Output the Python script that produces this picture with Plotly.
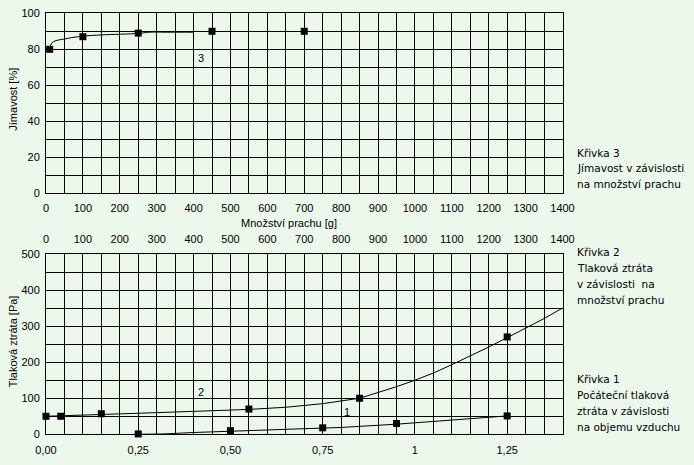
import plotly.graph_objects as go

# ---------------- data ----------------
# Křivka 3: Jímavost [%] vs množství prachu [g]
k3_mass = [10, 100, 250, 450, 700]
k3_eff = [80, 87, 89, 90, 90]
k3_fit_mass = [10, 14, 20, 30, 47, 70, 100, 150, 250, 280, 330, 400]
k3_fit_eff = [80, 83, 84.2, 85, 85.6, 86.5, 87.3, 88.0, 88.8, 89.5, 89.5, 89.5]

# Křivka 2: Tlaková ztráta [Pa] vs množství prachu [g]
k2_mass = [0, 40, 150, 550, 850, 1250]
k2_dp = [50, 50, 57, 70, 100, 270]
k2_fit_mass = [0, 40, 150, 300, 450, 550, 650, 750, 850, 900, 950, 1000, 1050,
               1100, 1150, 1200, 1250, 1300, 1350, 1400]
k2_fit_dp = [50, 51, 55, 60, 65, 69, 75, 85, 100, 115, 132, 150, 170,
             193, 217, 242, 268, 294, 321, 350]

# Křivka 1: Počáteční tlaková ztráta [Pa] vs objem vzduchu
k1_vol = [0.25, 0.50, 0.75, 0.95, 1.25]
k1_dp = [1, 10, 18, 30, 51]
k1_fit_vol = [0.25, 0.32, 0.40, 0.50, 0.65, 0.75, 0.80, 0.95, 1.10, 1.20, 1.25]
k1_fit_dp = [0, 1, 5, 9, 13, 17, 19, 28, 40, 49, 51]

mass_ticks = list(range(0, 1401, 100))
eff_ticks = [0, 20, 40, 60, 80, 100]
dp_ticks = [0, 100, 200, 300, 400, 500]
vol_tickvals = [0, 0.25, 0.5, 0.75, 1, 1.25]
vol_ticktext = ["0,00", "0,25", "0,50", "0,75", "1", "1,25"]

# ---------------- layout geometry ----------------
W, H = 694, 465
BG = "#ebf8eb"
FONT = dict(family="Liberation Sans, Arial, sans-serif", size=11, color="#000000")
NOTE_FONT = dict(family="DejaVu Sans, sans-serif", size=10.5, color="#000000")

def px(x):
    return x / W

def py(y):
    return 1 - y / H

xdom = [px(46), px(562.5)]
top_dom = [py(193.3), py(13.3)]
bot_dom = [py(434.3), py(254)]

fig = go.Figure()

mk = dict(symbol="square", size=7, color="black")
ln = dict(color="black", width=1)

fig.add_trace(go.Scatter(x=k3_fit_mass, y=k3_fit_eff, mode="lines", line=ln,
                         xaxis="x", yaxis="y", hoverinfo="skip", line_shape="spline"))
fig.add_trace(go.Scatter(x=k3_mass, y=k3_eff, mode="markers", marker=mk,
                         xaxis="x", yaxis="y", cliponaxis=False))

fig.add_trace(go.Scatter(x=k2_fit_mass, y=k2_fit_dp, mode="lines", line=ln,
                         xaxis="x3", yaxis="y2", hoverinfo="skip"))
fig.add_trace(go.Scatter(x=k2_mass, y=k2_dp, mode="markers", marker=mk,
                         xaxis="x3", yaxis="y2", cliponaxis=False))

fig.add_trace(go.Scatter(x=k1_fit_vol, y=k1_fit_dp, mode="lines", line=ln,
                         xaxis="x2", yaxis="y2", hoverinfo="skip"))
fig.add_trace(go.Scatter(x=k1_vol, y=k1_dp, mode="markers", marker=mk,
                         xaxis="x2", yaxis="y2", cliponaxis=False))

grid_common = dict(showgrid=True, gridcolor="black", gridwidth=1,
                   showline=True, linecolor="black", linewidth=1, mirror=True,
                   zeroline=False, ticks="", tickfont=FONT, fixedrange=True,
                   automargin=False)

fig.update_layout(
    width=W, height=H,
    margin=dict(l=0, r=0, t=0, b=0),
    paper_bgcolor=BG, plot_bgcolor=BG,
    showlegend=False,
    font=FONT,
    xaxis=dict(domain=xdom, anchor="y", range=[0, 1400], tickvals=mass_ticks,
               ticklabelstandoff=4,
               minor=dict(dtick=50, tick0=0, showgrid=True, gridcolor="black", gridwidth=1),
               **grid_common),
    yaxis=dict(domain=top_dom, anchor="x", range=[0, 100], tickvals=eff_ticks,
               ticklabelstandoff=3,
               minor=dict(dtick=10, tick0=0, showgrid=True, gridcolor="black", gridwidth=1),
               **grid_common),
    xaxis2=dict(domain=xdom, anchor="y2", range=[0, 1.4], tickvals=vol_tickvals,
                ticktext=vol_ticktext, showgrid=False, showline=True, linecolor="black",
                linewidth=1, mirror=True, zeroline=False, ticks="", tickfont=FONT,
                fixedrange=True, automargin=False, ticklabelstandoff=5),
    xaxis3=dict(overlaying="x2", anchor="y2", side="top", range=[0, 1400],
                tickvals=mass_ticks, ticklabelstandoff=6,
                minor=dict(dtick=50, tick0=0, showgrid=True, gridcolor="black", gridwidth=1),
                **grid_common),
    yaxis2=dict(domain=bot_dom, anchor="x2", range=[0, 500], tickvals=dp_ticks,
                ticklabelstandoff=3,
                minor=dict(dtick=50, tick0=0, showgrid=True, gridcolor="black", gridwidth=1),
                **grid_common),
)

ann = []

def note(x, y, text, font=FONT, **kw):
    d = dict(x=x, y=y, xref="paper", yref="paper", text=text, showarrow=False,
             font=font, xanchor="left", yanchor="middle")
    d.update(kw)
    ann.append(d)

# axis titles
note(px(289), py(223), "Množství prachu [g]", xanchor="center")
note(px(12.7), py(99), "Jímavost [%]", xanchor="center", textangle=-90)
note(px(13.3), py(341), "Tlaková ztráta [Pa]", xanchor="center", textangle=-90)

# curve numbers
ann.append(dict(x=420, y=75, xref="x", yref="y", text="3", showarrow=False, font=FONT))
ann.append(dict(x=419, y=117, xref="x3", yref="y2", text="2", showarrow=False, font=FONT))
ann.append(dict(x=0.817, y=63, xref="x2", yref="y2", text="1", showarrow=False, font=FONT))

# right-side descriptions
lx = px(575)
for i, t in enumerate(["Křivka 3", "Jímavost v závislosti", "na množství prachu"]):
    note(lx, py(153 + 15.5 * i), t, font=NOTE_FONT)
for i, t in enumerate(["Křivka 2", "Tlaková ztráta", "v závislosti  na", "množství prachu"]):
    note(lx, py(252 + 16 * i), t, font=NOTE_FONT)
for i, t in enumerate(["Křivka 1", "Počáteční tlaková", "ztráta v závislosti", "na objemu vzduchu"]):
    note(lx, py(379 + 16 * i), t, font=NOTE_FONT)

fig.update_layout(annotations=ann)

fig.write_html(
    "out.html",
    config=dict(displayModeBar=False),
    post_script="document.body.style.margin='0';document.body.style.background='%s';" % BG,
)
